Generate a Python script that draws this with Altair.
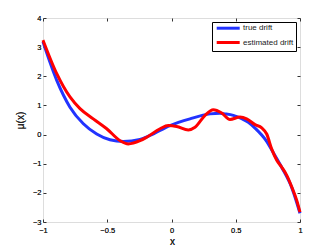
import altair as alt
import pandas as pd

series_names = ["true drift", "estimated drift"]
series_colors = ["#2233ff", "#ff0000"]

x_true = [-1.0, -0.893, -0.79, -0.686, -0.582, -0.479, -0.375, -0.245, -0.167,
          -0.012, 0.144, 0.300, 0.377, 0.416, 0.481, 0.546, 0.598, 0.65, 0.735,
          0.805, 0.858, 0.936, 1.0]
y_true = [3.18, 1.86, 0.94, 0.37, 0.02, -0.18, -0.24, -0.17, -0.03,
          0.31, 0.54, 0.71, 0.73, 0.71, 0.66, 0.55, 0.42, 0.22, -0.2,
          -0.72, -1.13, -1.82, -2.70]

x_est = [-1.0, -0.893, -0.79, -0.712, -0.609, -0.504, -0.40, -0.336, -0.245,
         -0.193, -0.089, -0.025, 0.040, 0.131, 0.183, 0.261, 0.325, 0.391,
         0.455, 0.533, 0.585, 0.65, 0.702, 0.741, 0.78, 0.819, 0.858, 0.897,
         0.936, 0.974, 1.0]
y_est = [3.24, 2.09, 1.29, 0.89, 0.54, 0.20, -0.21, -0.32, -0.21,
         -0.09, 0.20, 0.31, 0.28, 0.16, 0.25, 0.66, 0.85, 0.74,
         0.52, 0.60, 0.54, 0.34, 0.23, 0.02, -0.5, -0.88, -1.12, -1.40,
         -1.80, -2.25, -2.66]

x_ticks = [-1, -0.5, 0, 0.5, 1]
y_ticks = [-3, -2, -1, 0, 1, 2, 3, 4]

W, H = 257, 204

df = pd.DataFrame({
    "x": x_true + x_est,
    "y": y_true + y_est,
    "series": [series_names[0]] * len(x_true) + [series_names[1]] * len(x_est),
})

xs = alt.Scale(domain=[-1, 1], nice=False, zero=False)
ys = alt.Scale(domain=[-3, 4], nice=False, zero=False)
cs = alt.Scale(domain=series_names, range=series_colors)

FONT = "Liberation Sans"
TICK = "#333333"
LABEL = "#222222"

legend = alt.Legend(
    title=None, orient="none", legendX=169, legendY=4,
    symbolType="M-0.6,0H8.6", symbolSize=25, symbolStrokeWidth=3,
    labelFontSize=8, labelFont=FONT, labelColor=LABEL,
    labelOffset=20.8, rowPadding=2.3, padding=2.2,
    fillColor="white", strokeColor="#000000", cornerRadius=0,
)

x_main = alt.Axis(
    orient="bottom", values=x_ticks, format="~g", title="x", ticks=False, domain=False, grid=False,
    labelFontSize=7.5, labelFont=FONT, labelColor=LABEL, labelPadding=4, labelFlush=False,
    titleFontSize=10, titleFont=FONT, titleFontWeight="normal", titleColor=LABEL,
    titleX=129, titleY=19, titleBaseline="middle", titleAlign="center",
)
y_main = alt.Axis(
    orient="left", values=y_ticks, format="~g", title="μ(x)", ticks=False, domain=False, grid=False,
    labelFontSize=7.5, labelFont=FONT, labelColor=LABEL, labelPadding=2,
    titleFontSize=10, titleFont=FONT, titleFontWeight="normal", titleColor=LABEL,
    titleAngle=-90, titleX=-23, titleY=102, titleBaseline="middle", titleAlign="center",
)


def line_layer(name):
    return alt.Chart(df).transform_filter(alt.datum.series == name).mark_line(
        strokeWidth=3, interpolate="monotone"
    ).encode(
        x=alt.X("x:Q", scale=xs, axis=x_main),
        y=alt.Y("y:Q", scale=ys, axis=y_main),
        color=alt.Color("series:N", scale=cs, legend=legend),
    )


def tick_axis(orient, offset, values):
    return alt.Axis(orient=orient, offset=offset, values=values, labels=False, ticks=True,
                    tickSize=3, tickColor=TICK, domain=False, grid=False, title=None)


ghost = alt.Chart(df).mark_line(opacity=0)
tick_layers = [
    ghost.encode(x=alt.X("x:Q", scale=xs, axis=tick_axis("top", -H, x_ticks)),
                 y=alt.Y("y:Q", scale=ys, axis=None)),
    ghost.encode(x=alt.X("x:Q", scale=xs, axis=tick_axis("bottom", -H, x_ticks)),
                 y=alt.Y("y:Q", scale=ys, axis=None)),
    ghost.encode(x=alt.X("x:Q", scale=xs, axis=None),
                 y=alt.Y("y:Q", scale=ys, axis=tick_axis("right", -W, y_ticks))),
    ghost.encode(x=alt.X("x:Q", scale=xs, axis=None),
                 y=alt.Y("y:Q", scale=ys, axis=tick_axis("left", -W, y_ticks))),
]

chart = alt.layer(
    *tick_layers, line_layer(series_names[0]), line_layer(series_names[1])
).resolve_axis(x="independent", y="independent").properties(
    width=W, height=H,
    autosize=alt.AutoSizeParams(type="none"),
    padding={"left": 35, "top": 10, "right": 24, "bottom": 28},
    background="white",
).configure_view(stroke="#333333", strokeWidth=1).configure(font=FONT)

chart.save("out.html", embed_options={"renderer": "svg", "actions": False})
